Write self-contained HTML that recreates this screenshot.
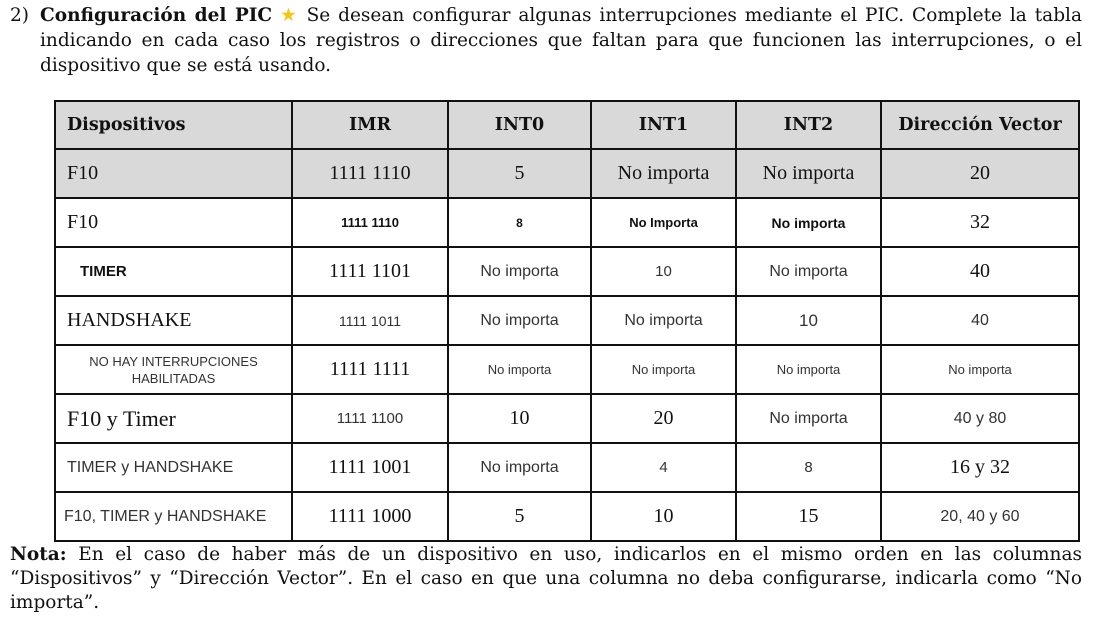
<!DOCTYPE html>
<html><head><meta charset="utf-8"><style>
body{margin:0;width:1098px;height:627px;background:#fff;position:relative;overflow:hidden;font-family:"Liberation Serif",serif;color:#111}
.p{position:absolute;font-family:"DejaVu Serif",serif;font-size:18.5px;line-height:25px;text-align:justify}
table{position:absolute;left:54px;top:100px;border-collapse:collapse;table-layout:fixed}
td{border:2px solid #111;text-align:center;padding:0;height:47px;font-size:20px;font-family:"Liberation Serif",serif}
.h td{font-weight:bold;background:#d9d9d9;height:46px;font-family:"DejaVu Serif",serif;font-size:17.5px}
.gr td{background:#d9d9d9}
td.l{text-align:left;padding-left:11px}
.s{font-family:"Liberation Sans",sans-serif;color:#333;font-size:16px}
.sb{font-family:"Liberation Sans",sans-serif;font-weight:bold;font-size:13px;color:#111}
.sm{font-family:"Liberation Sans",sans-serif;color:#333;font-size:13px}
</style></head><body>
<div class="p" style="left:10px;top:3px;width:1072px">
<span style="position:absolute;left:0">2)</span>
<div style="margin-left:30px"><b>Configuración del PIC</b> <span style="color:#f5c518">★</span> Se desean configurar algunas interrupciones mediante el PIC. Complete la tabla indicando en cada caso los registros o direcciones que faltan para que funcionen las interrupciones, o el dispositivo que se está usando.</div></div>
<table>
<colgroup><col style="width:237px"><col style="width:156px"><col style="width:143px"><col style="width:145px"><col style="width:145px"><col style="width:198px"></colgroup>
<tr class="h"><td class="l">Dispositivos</td><td>IMR</td><td>INT0</td><td>INT1</td><td>INT2</td><td>Dirección Vector</td></tr>
<tr class="gr"><td class="l">F10</td><td>1111 1110</td><td>5</td><td>No importa</td><td>No importa</td><td>20</td></tr>
<tr><td class="l">F10</td><td class="sb">1111 1110</td><td class="sb" style="font-size:12px">8</td><td class="sb">No Importa</td><td class="sb" style="font-size:14px">No importa</td><td>32</td></tr>
<tr><td class="l sb" style="font-size:15px;padding-left:24px">TIMER</td><td>1111 1101</td><td class="s">No importa</td><td class="s" style="font-size:15px">10</td><td class="s">No importa</td><td>40</td></tr>
<tr><td class="l">HANDSHAKE</td><td class="s" style="font-size:14px">1111 1011</td><td class="s">No importa</td><td class="s">No importa</td><td class="s" style="font-size:17px">10</td><td class="s">40</td></tr>
<tr><td class="sm" style="line-height:17px">NO HAY INTERRUPCIONES<br>HABILITADAS</td><td>1111 1111</td><td class="sm">No importa</td><td class="sm">No importa</td><td class="sm">No importa</td><td class="sm">No importa</td></tr>
<tr><td class="l" style="font-size:22px">F10 y Timer</td><td class="s" style="font-size:15px">1111 1100</td><td>10</td><td>20</td><td class="s">No importa</td><td class="s">40 y 80</td></tr>
<tr><td class="l s">TIMER y HANDSHAKE</td><td>1111 1001</td><td class="s">No importa</td><td class="s" style="font-size:15px">4</td><td class="s" style="font-size:15px">8</td><td>16 y 32</td></tr>
<tr><td class="l s" style="padding-left:8px">F10, TIMER y HANDSHAKE</td><td>1111 1000</td><td>5</td><td>10</td><td>15</td><td class="s">20, 40 y 60</td></tr>
</table>
<div class="p" style="left:10px;top:543px;width:1072px;line-height:24px"><b>Nota:</b> En el caso de haber más de un dispositivo en uso, indicarlos en el mismo orden en las columnas “Dispositivos” y “Dirección Vector”. En el caso en que una columna no deba configurarse, indicarla como “No importa”.</div>
</body></html>
